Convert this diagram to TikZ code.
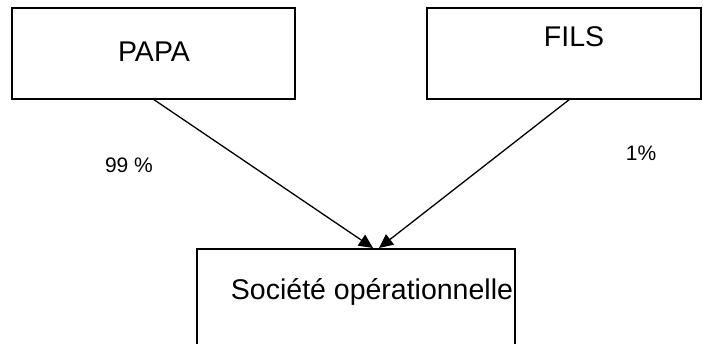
\documentclass[tikz,border=0pt]{standalone}
\usepackage{fontspec}
\setmainfont{Liberation Sans}
\usetikzlibrary{arrows.meta}
\begin{document}
\begin{tikzpicture}[x=1pt,y=-1pt,
  box/.style={draw=black, line width=2pt, fill=white},
  big/.style={font=\fontsize{28.5}{32}\selectfont, inner sep=0pt},
  pct/.style={font=\fontsize{21}{24}\selectfont, inner sep=0pt},
  conn/.style={draw=black, line width=1.3pt, -{Triangle[length=14pt,width=13pt]}}]
  \useasboundingbox (0,0) rectangle (703,343);
  % boxes
  \draw[box] (12,8) rectangle (295,99);
  \draw[box] (427,8) rectangle (701,99);
  \draw[box] (197,249) rectangle (515,360);
  % texts
  \node[big] (papa) at (154,52) {PAPA};
  \node[big] (fils) at (574,37) {FILS};
  \node[big] (soc) at (372,292) {Société opérationnelle};
  \node[pct] (p99) at (129,165) {99 \%};
  \node[pct] (p1) at (641,153) {1\%};
  % connectors
  \coordinate (papaout) at (153,99);
  \coordinate (filsout) at (570,99);
  \coordinate (socinL) at (373,248);
  \coordinate (socinR) at (379,248);
  \draw[conn] (papaout) -- (socinL);
  \draw[conn] (filsout) -- (socinR);
\end{tikzpicture}
\end{document}
